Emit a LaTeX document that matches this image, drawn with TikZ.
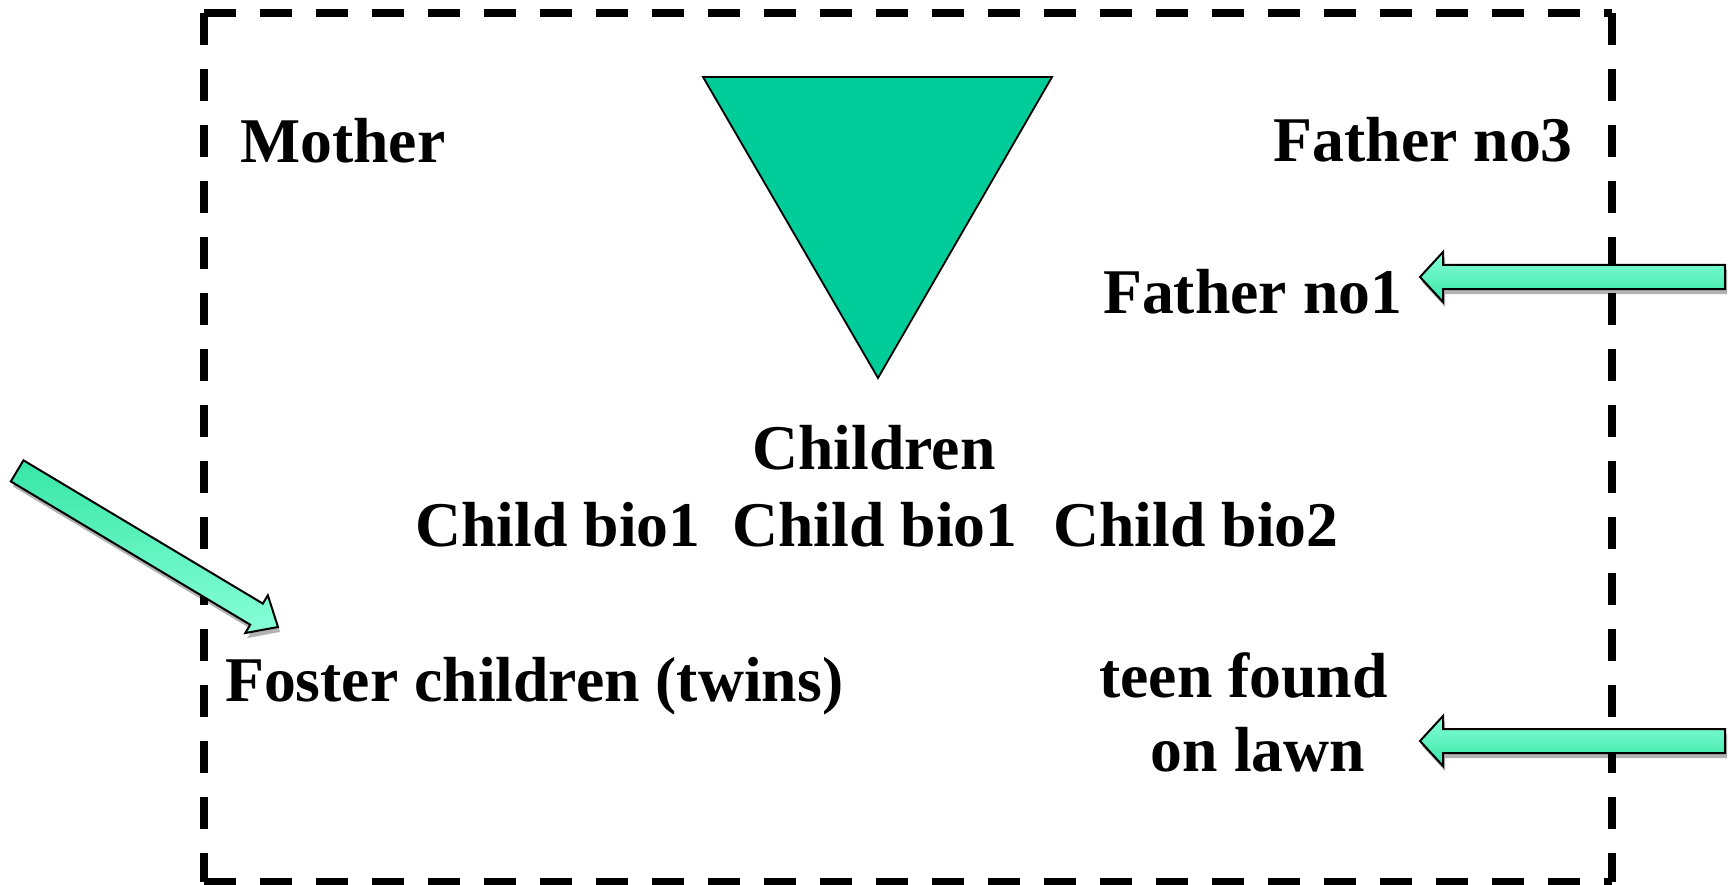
\documentclass[tikz,border=0pt]{standalone}
\usepackage{fontspec}
\setmainfont{Liberation Serif}
\usetikzlibrary{shadows}
\definecolor{tri}{HTML}{00CC99}
\definecolor{arrowlight}{HTML}{88FFD8}
\definecolor{arrowdark}{HTML}{36E6A8}
\begin{document}
\begin{tikzpicture}[x=1pt,y=1pt,
  lbl/.style={font=\fontsize{63.7}{73}\selectfont\bfseries, inner sep=0pt, anchor=base},
  framedash/.style={line width=8pt, dash pattern=on 32pt off 24pt},
  blockarrow/.style={draw=black, line width=2pt, line join=miter,
    drop shadow={shadow xshift=2pt, shadow yshift=-5pt, opacity=0.3, fill=black}},
  shadedown/.style={top color=arrowlight, bottom color=arrowdark},
  shadeup/.style={top color=arrowdark, bottom color=arrowlight},
]
\useasboundingbox (0,0) rectangle (1731,-885);
% dashed frame
\coordinate (TL) at (204,-13);
\coordinate (TR) at (1612,-13);
\coordinate (BL) at (204,-882);
\coordinate (BR) at (1612,-882);
\draw[framedash] (TL) -- (TR);
\draw[framedash] (TR) -- (BR);
\draw[framedash] (TL) -- (BL);
\draw[framedash] (BL) -- (BR);
% triangle
\coordinate (t1) at (703,-77);
\coordinate (t2) at (1052,-77);
\coordinate (t3) at (878,-378);
\draw[fill=tri, line width=1.8pt, line join=miter] (t1) -- (t2) -- (t3) -- cycle;
% labels
\node[lbl, anchor=base west] (mother) at (240,-163) {Mother};
\node[lbl, anchor=base east] (fno3) at (1573,-162) {Father no3};
\node[lbl, anchor=base west] (fno1) at (1103,-313) {Father no1};
\node[lbl] (children) at (874,-469) {Children};
\node[lbl] (cbioa) at (558,-546) {Child bio1};
\node[lbl] (cbiob) at (875,-546) {Child bio1};
\node[lbl] (cbioc) at (1196,-546) {Child bio2};
\node[lbl, anchor=base west] (foster) at (225,-701) {Foster children (twins)};
\node[lbl] (teen) at (1243.5,-697) {teen found};
\node[lbl] (lawn) at (1258,-771) {on lawn};
% arrows
\coordinate (tipa) at (1420,-277);
\coordinate (tipb) at (1420,-741);
\coordinate (tipc) at (278,-627);
\begin{scope}[shift={(tipa)}]
  \path[blockarrow, shadedown] (0,0) -- (23,25) -- (23,12) -- (305,12) -- (305,-12) -- (23,-12) -- (23,-25) -- cycle;
\end{scope}
\begin{scope}[shift={(tipb)}]
  \path[blockarrow, shadedown] (0,0) -- (23,25) -- (23,12) -- (305,12) -- (305,-12) -- (23,-12) -- (23,-25) -- cycle;
\end{scope}
\begin{scope}[shift={(tipc)}, rotate=149.1]
  \path[blockarrow, shadeup] (0,0) -- (25,22) -- (25,12.3) -- (304,12.3) -- (304,-12.3) -- (25,-12.3) -- (25,-22) -- cycle;
\end{scope}
\end{tikzpicture}
\end{document}
